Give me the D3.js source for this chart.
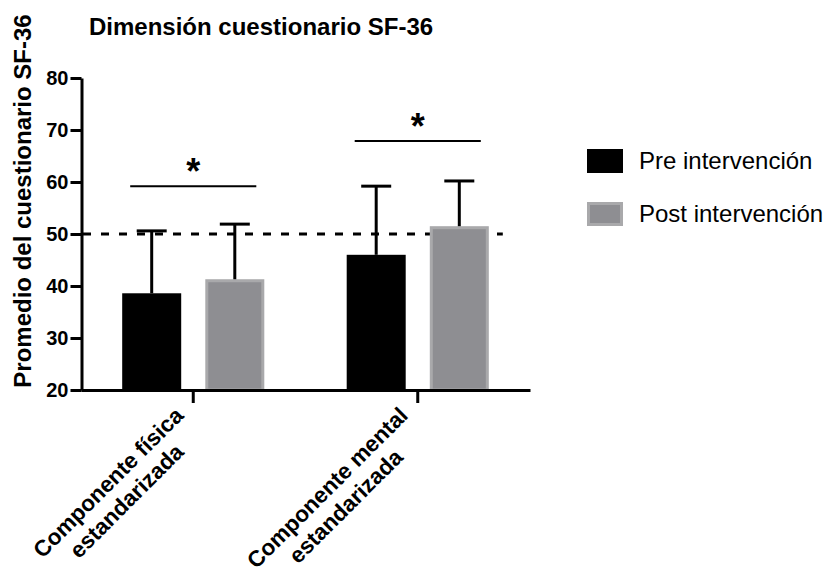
<!DOCTYPE html>
<html>
<head>
<meta charset="utf-8">
<script src="https://cdnjs.cloudflare.com/ajax/libs/d3/7.8.5/d3.min.js"></script>
<style>
    body { margin: 0; background: #fff; }
    svg { display: block; font-family: "Liberation Sans", Arial, Helvetica, sans-serif; }
</style>
</head>
<body>
<svg id="chart"></svg>
<script>
const categories = ["fisica", "mental"];
const categoryLines = [["Componente física", "estandarizada"], ["Componente mental", "estandarizada"]];
const series = ["Pre intervención", "Post intervención"];
const preMeans = [38.6, 46.0];
const preSD = [12.0, 13.2];
const postMeans = [41.3, 51.5];
const postSD = [10.6, 8.7];
const sigLevels = [59.2, 67.9];
const refLine = 50;
const yTicks = [20, 30, 40, 50, 60, 70, 80];

const w = 826, h = 578;
const colors = ["#000000", "#8e8e92"];

const svg = d3.select("#chart")
    .attr("width", w)
    .attr("height", h);

// Scales
const x0 = d3.scaleBand()
    .domain(categories)
    .range([81, 530])
    .paddingInner(0.367)
    .paddingOuter(0.1835);

const x1 = d3.scaleBand()
    .domain(series)
    .range([0, x0.bandwidth()])
    .paddingInner(0.29);

const y = d3.scaleLinear()
    .domain([20, 80])
    .range([390, 78]);

const rows = categories.map((c, i) => ({
    cat: c,
    values: [
        {s: series[0], mean: preMeans[i], sd: preSD[i], color: colors[0]},
        {s: series[1], mean: postMeans[i], sd: postSD[i], color: colors[1]}
    ]
}));

// Dashed reference line
svg.append("line")
    .attr("x1", 83)
    .attr("x2", x0(categories[1]) + x0.bandwidth() + 14)
    .attr("y1", y(refLine))
    .attr("y2", y(refLine))
    .attr("stroke", "#000")
    .attr("stroke-width", 3)
    .attr("stroke-dasharray", "8,10");

// Bars
const groups = svg.selectAll("g.grp")
    .data(rows)
    .enter()
    .append("g")
    .attr("class", "grp")
    .attr("transform", d => `translate(${x0(d.cat)},0)`);

groups.selectAll("rect")
    .data(d => d.values)
    .enter()
    .append("rect")
    .attr("x", (d, i) => x1(d.s) + (i ? 1.5 : 0))
    .attr("y", (d, i) => y(d.mean) + (i ? 1.5 : 0))
    .attr("width", (d, i) => x1.bandwidth() - (i ? 3 : 0))
    .attr("height", (d, i) => y(20) - y(d.mean) - (i ? 1.5 : 0))
    .attr("fill", d => d.color)
    .attr("stroke", (d, i) => i ? "#a9a9ab" : "none")
    .attr("stroke-width", 3);

// Error bars (upper only)
groups.selectAll("line.stem")
    .data(d => d.values)
    .enter()
    .append("line")
    .attr("class", "stem")
    .attr("x1", d => x1(d.s) + x1.bandwidth() / 2)
    .attr("x2", d => x1(d.s) + x1.bandwidth() / 2)
    .attr("y1", d => y(d.mean))
    .attr("y2", d => y(d.mean + d.sd))
    .attr("stroke", "#000")
    .attr("stroke-width", 3);

groups.selectAll("line.cap")
    .data(d => d.values)
    .enter()
    .append("line")
    .attr("class", "cap")
    .attr("x1", d => x1(d.s) + x1.bandwidth() / 2 - 15)
    .attr("x2", d => x1(d.s) + x1.bandwidth() / 2 + 15)
    .attr("y1", d => y(d.mean + d.sd))
    .attr("y2", d => y(d.mean + d.sd))
    .attr("stroke", "#000")
    .attr("stroke-width", 3);

// Significance lines
groups.append("line")
    .attr("x1", x1(series[0]) + 8)
    .attr("x2", x1(series[1]) + x1.bandwidth() - 8)
    .attr("y1", (d, i) => y(sigLevels[i]))
    .attr("y2", (d, i) => y(sigLevels[i]))
    .attr("stroke", "#000")
    .attr("stroke-width", 2);

groups.append("text")
    .attr("x", x0.bandwidth() / 2)
    .attr("y", (d, i) => y(sigLevels[i]) - 2)
    .attr("text-anchor", "middle")
    .style("font-size", "36px")
    .style("font-weight", "bold")
    .text("*");

// Axes
const yAxis = d3.axisLeft(y)
    .tickValues(yTicks)
    .tickSize(11)
    .tickSizeOuter(0)
    .tickPadding(2);

const gy = svg.append("g")
    .attr("transform", "translate(81.5,0)")
    .call(yAxis);
gy.select(".domain").attr("stroke-width", 3);
gy.selectAll(".tick line").attr("stroke-width", 3);
gy.selectAll(".tick text")
    .style("font-size", "20px")
    .style("font-weight", "bold")
    .attr("fill", "#000");

const xAxis = d3.axisBottom(x0)
    .tickSize(13)
    .tickSizeOuter(0)
    .tickFormat("");

const gx = svg.append("g")
    .attr("transform", `translate(0,${y(20)})`)
    .call(xAxis);
gx.select(".domain").attr("stroke-width", 3);
gx.selectAll(".tick line").attr("stroke-width", 3);

// Rotated category labels
categories.forEach((c, i) => {
    const g = svg.append("g")
        .attr("transform", `translate(${x0(c) + x0.bandwidth() / 2},397) rotate(-45)`);
    const t = g.append("text")
        .attr("text-anchor", "middle")
        .style("font-size", "22.5px")
        .style("font-weight", "bold");
    t.append("tspan").attr("y", 8).text(categoryLines[i][0]);
    t.append("tspan").attr("y", 34).text(categoryLines[i][1]);
    const wMax = d3.max(t.selectAll("tspan").nodes(), n => n.getComputedTextLength());
    t.selectAll("tspan").attr("x", -wMax / 2 - 20);
});

// Axis label
svg.append("text")
    .attr("transform", "rotate(-90)")
    .attr("x", -201)
    .attr("y", 31)
    .attr("text-anchor", "middle")
    .style("font-size", "24px")
    .style("font-weight", "bold")
    .text("Promedio del cuestionario SF-36");

// Title
svg.append("text")
    .attr("x", 89)
    .attr("y", 35)
    .style("font-size", "24px")
    .style("font-weight", "bold")
    .text("Dimensión cuestionario SF-36");

// Legend
const legend = svg.selectAll("g.legend")
    .data(series)
    .enter()
    .append("g")
    .attr("class", "legend")
    .attr("transform", (d, i) => `translate(587,${149 + i * 53})`);

legend.append("rect")
    .attr("x", (d, i) => i ? 1.5 : 0)
    .attr("y", (d, i) => i ? 1.5 : 0)
    .attr("width", (d, i) => i ? 33 : 36)
    .attr("height", (d, i) => i ? 21 : 24)
    .attr("fill", (d, i) => colors[i])
    .attr("stroke", (d, i) => i ? "#a9a9ab" : "none")
    .attr("stroke-width", 3);

legend.append("text")
    .attr("x", 52)
    .attr("y", 20)
    .style("font-size", "24px")
    .text(d => d);
</script>
</body>
</html>
